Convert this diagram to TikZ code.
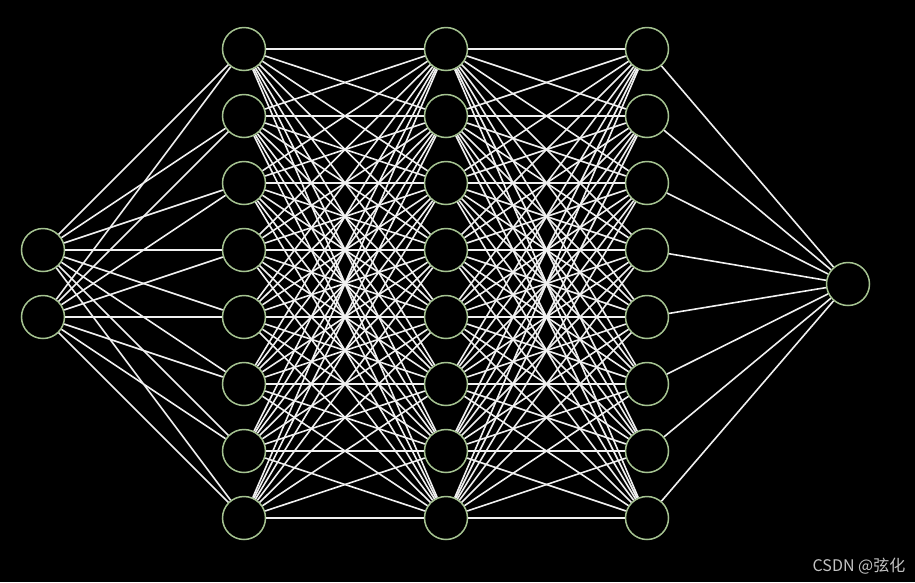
\documentclass[tikz,border=0pt]{standalone}
\usepackage{fontspec}
\newfontfamily\cjk{Noto Sans CJK SC}
\usepackage{xcolor}
\usepackage{tikz}
\usetikzlibrary{positioning}

\definecolor{rimgreen}{RGB}{165,195,145}
\definecolor{linkwhite}{RGB}{240,240,240}
\definecolor{markgray}{RGB}{195,195,195}

\begin{document}
\begin{tikzpicture}[
  x=1pt,y=-1pt,
  neuron/.style={
    circle,draw=rimgreen,fill=black,
    line width=1.5pt,minimum size=43pt,inner sep=0pt
  },
  link/.style={draw=linkwhite,line width=1.6pt}
]

\useasboundingbox[fill=black] (0,0) rectangle (915,582);

% input layer
\node[neuron] (x1) at (43,250) {};
\node[neuron] (x2) at (43,317) {};

% hidden layers
\foreach \i in {1,...,8} {
  \node[neuron] (ha\i) at (244,{49+67*(\i-1)}) {};
  \node[neuron] (hb\i) at (446,{49+67*(\i-1)}) {};
  \node[neuron] (hc\i) at (647,{49+67*(\i-1)}) {};
}

% output layer
\node[neuron] (y) at (848,284) {};

% connections
\foreach \i in {1,...,8} {
  \draw[link] (x1) -- (ha\i);
  \draw[link] (x2) -- (ha\i);
  \draw[link] (hc\i) -- (y);
  \foreach \j in {1,...,8} {
    \draw[link] (ha\i) -- (hb\j);
    \draw[link] (hb\i) -- (hc\j);
  }
}

\node[text=markgray,font=\cjk\fontsize{16pt}{18pt}\selectfont] (mark) at (859,566) {CSDN @弦化};

\end{tikzpicture}
\end{document}
